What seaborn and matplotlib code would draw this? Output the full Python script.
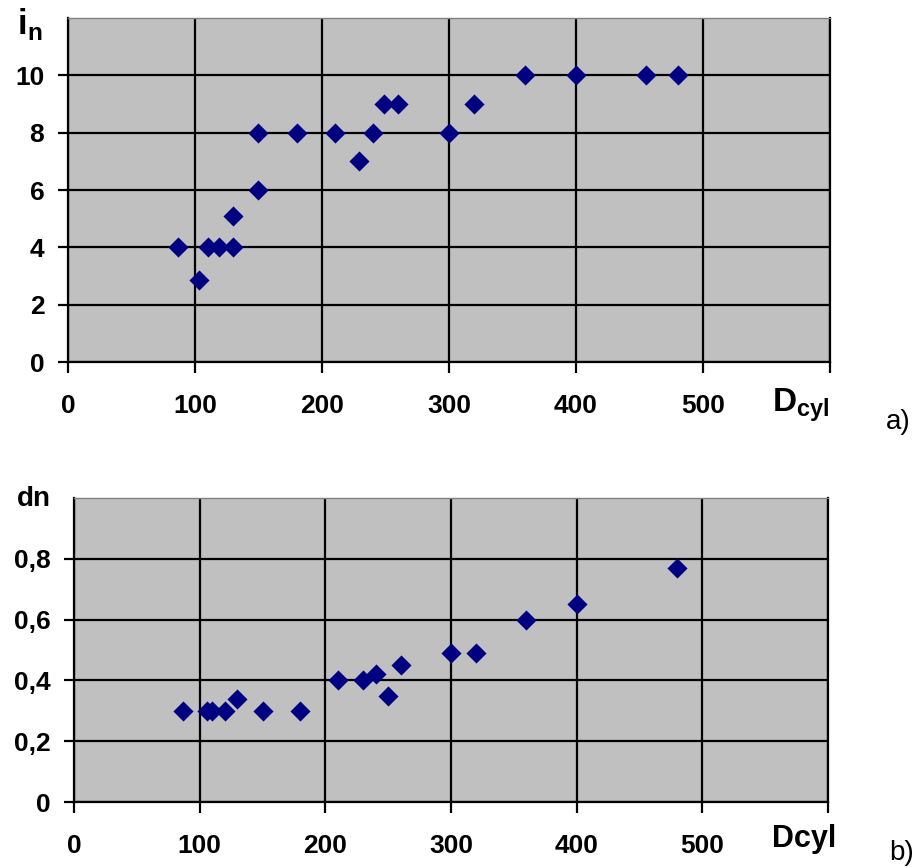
import matplotlib
matplotlib.use("Agg")
import matplotlib.pyplot as plt
import seaborn as sns

# a) number of elements i_n vs cylinder diameter
d_cyl_a = [87, 103, 110, 119, 130, 130, 150, 150, 180, 210, 229, 240, 249, 260, 300, 320, 360, 400, 455, 480]
i_n = [4, 2.85, 4, 4, 4, 5.1, 6, 8, 8, 8, 7, 8, 9, 9, 8, 9, 10, 10, 10, 10]

# b) dn vs cylinder diameter
d_cyl_b = [87, 106, 110, 120, 130, 150, 180, 210, 230, 240, 250, 260, 300, 320, 360, 400, 480]
dn = [0.3, 0.3, 0.3, 0.3, 0.34, 0.3, 0.3, 0.4, 0.4, 0.42, 0.35, 0.45, 0.49, 0.49, 0.6, 0.65, 0.77]

x_ticks = [0, 100, 200, 300, 400, 500, 600]
x_labels = ["0", "100", "200", "300", "400", "500", ""]
ya_ticks = [0, 2, 4, 6, 8, 10]
ya_labels = ["0", "2", "4", "6", "8", "10"]
yb_ticks = [0, 0.2, 0.4, 0.6, 0.8]
yb_labels = ["0", "0,2", "0,4", "0,6", "0,8"]

sns.set_style("ticks", rc={"text.color": "black", "xtick.color": "black",
                           "ytick.color": "black", "axes.labelcolor": "black"})
plt.rcParams["font.family"] = ["Liberation Sans", "DejaVu Sans"]
plt.rcParams["mathtext.fontset"] = "custom"
plt.rcParams["mathtext.bf"] = "Liberation Sans:bold"
plt.rcParams["mathtext.rm"] = "Liberation Sans"

BG = "#c0c0c0"
NAVY = "#000080"

fig = plt.figure(figsize=(9.15, 8.68), dpi=100)
ax1 = fig.add_axes([0.0743, 0.5829, 0.8328, 0.3964])
ax2 = fig.add_axes([0.0809, 0.0760, 0.8240, 0.3503])


def style_axes(ax, yticks, ylabels, ymax):
    ax.set_facecolor(BG)
    ax.set_xlim(0, 600)
    ax.set_ylim(0, ymax)
    ax.set_xticks(x_ticks)
    ax.set_xticklabels(x_labels)
    ax.set_yticks(yticks)
    ax.set_yticklabels(ylabels)
    ax.grid(True, color="black", linewidth=1.6)
    ax.set_axisbelow(True)
    for side in ["left", "bottom", "right"]:
        ax.spines[side].set_color("black")
        ax.spines[side].set_linewidth(1.6)
    ax.spines["top"].set_color("#808080")
    ax.spines["top"].set_linewidth(1.0)
    ax.tick_params(axis="x", length=8, width=1.6, pad=15, labelsize=19,
                   color="black", labelcolor="black")
    ax.tick_params(axis="y", length=7, width=1.6, pad=10, labelsize=19,
                   color="black", labelcolor="black")
    for lab in ax.get_xticklabels() + ax.get_yticklabels():
        lab.set_fontweight("bold")
    ax.set_xlabel("")
    ax.set_ylabel("")


sns.scatterplot(x=d_cyl_a, y=i_n, ax=ax1, marker="D", color=NAVY, s=105, linewidth=0, zorder=3)
style_axes(ax1, ya_ticks, ya_labels, 12)

sns.scatterplot(x=d_cyl_b, y=dn, ax=ax2, marker="D", color=NAVY, s=105, linewidth=0, zorder=3)
style_axes(ax2, yb_ticks, yb_labels, 1.0)

# axis names
fig.text(17 / 915, 1 - 24 / 868, r"$\mathbf{i}_{\mathbf{n}}$", fontsize=25, color="black",
         ha="left", va="center")
fig.text(801 / 915, 1 - 405 / 868, r"$\mathbf{D}_{\mathbf{cyl}}$", fontsize=24, color="black",
         ha="center", va="center")
fig.text(898 / 915, 1 - 422 / 868, "a)", fontsize=20, color="black", ha="center", va="center")

fig.text(34 / 915, 1 - 499 / 868, "dn", fontsize=20, fontweight="bold", color="black",
         ha="center", va="center")
fig.text(804 / 915, 1 - 839 / 868, "Dcyl", fontsize=22, fontweight="bold", color="black",
         ha="center", va="center")
fig.text(902 / 915, 1 - 853 / 868, "b)", fontsize=20, color="black", ha="center", va="center")

fig.savefig("out.png", dpi=100, facecolor="white")
